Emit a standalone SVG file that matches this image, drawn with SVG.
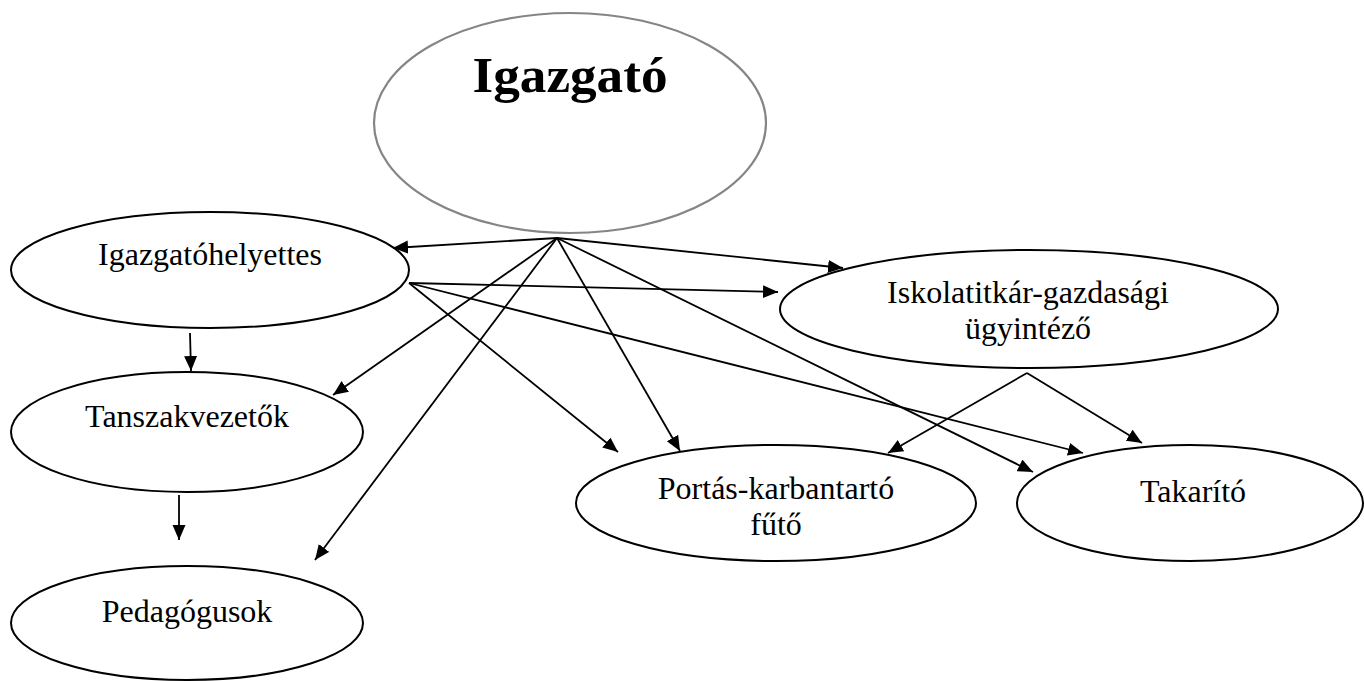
<svg xmlns="http://www.w3.org/2000/svg" width="1364" height="681" viewBox="0 0 1364 681">
<style>
.node { fill: #ffffff; stroke: #000000; stroke-width: 2; }
.top { fill: #ffffff; stroke: #858585; stroke-width: 2.2; }
.lbl { font-family: "Liberation Serif", "Times New Roman", serif; font-size: 32px; fill: #000000; text-anchor: middle; }
.title { font-family: "Liberation Serif", "Times New Roman", serif; font-size: 50px; font-weight: bold; fill: #000000; text-anchor: middle; }
.edge { stroke: #000000; stroke-width: 1.8; fill: none; marker-end: url(#arr); }
</style>
<defs>
<marker id="arr" markerUnits="userSpaceOnUse" markerWidth="16" markerHeight="14" refX="15" refY="6.5" orient="auto" viewBox="0 0 16 14">
<path d="M0,0 L15,6.5 L0,13 z" fill="#000000"/>
</marker>
</defs>
<rect x="0" y="0" width="1364" height="681" fill="#ffffff"/>
<g id="n-igazgato">
<ellipse class="top" cx="570" cy="123" rx="196" ry="110"/>
<text class="title" x="570" y="92" textLength="195" lengthAdjust="spacingAndGlyphs">Igazgató</text>
</g>
<g id="n-helyettes">
<ellipse class="node" cx="210" cy="270" rx="199" ry="58"/>
<text class="lbl" x="210" y="265">Igazgatóhelyettes</text>
</g>
<g id="n-tanszak">
<ellipse class="node" cx="187" cy="432" rx="176" ry="60"/>
<text class="lbl" x="187" y="427">Tanszakvezetők</text>
</g>
<g id="n-pedagogus">
<ellipse class="node" cx="187" cy="623" rx="176" ry="57"/>
<text class="lbl" x="187" y="622">Pedagógusok</text>
</g>
<g id="n-iskolatitkar">
<ellipse class="node" cx="1029" cy="309" rx="249" ry="59"/>
<text class="lbl" x="1028" y="303">Iskolatitkár-gazdasági</text>
<text class="lbl" x="1028" y="339">ügyintéző</text>
</g>
<g id="n-portas">
<ellipse class="node" cx="776" cy="503" rx="200" ry="58"/>
<text class="lbl" x="776" y="499">Portás-karbantartó</text>
<text class="lbl" x="776" y="535">fűtő</text>
</g>
<g id="n-takarito">
<ellipse class="node" cx="1190" cy="503" rx="173" ry="58"/>
<text class="lbl" x="1193" y="502">Takarító</text>
</g>
<g id="connectors">
<line class="edge" x1="557" y1="238" x2="393" y2="248"/>
<line class="edge" x1="557" y1="238" x2="843" y2="268"/>
<line class="edge" x1="557" y1="238" x2="333" y2="395"/>
<line class="edge" x1="557" y1="238" x2="315" y2="560"/>
<line class="edge" x1="557" y1="238" x2="680" y2="451"/>
<line class="edge" x1="557" y1="238" x2="1033" y2="472"/>
<line class="edge" x1="409" y1="283" x2="778" y2="292"/>
<line class="edge" x1="409" y1="283" x2="618" y2="452"/>
<line class="edge" x1="409" y1="283" x2="1083" y2="453"/>
<line class="edge" x1="190" y1="333" x2="191" y2="371"/>
<line class="edge" x1="179" y1="495" x2="179" y2="540"/>
<line class="edge" x1="1027" y1="373" x2="888" y2="453"/>
<line class="edge" x1="1027" y1="373" x2="1142" y2="443"/>
</g>
</svg>
